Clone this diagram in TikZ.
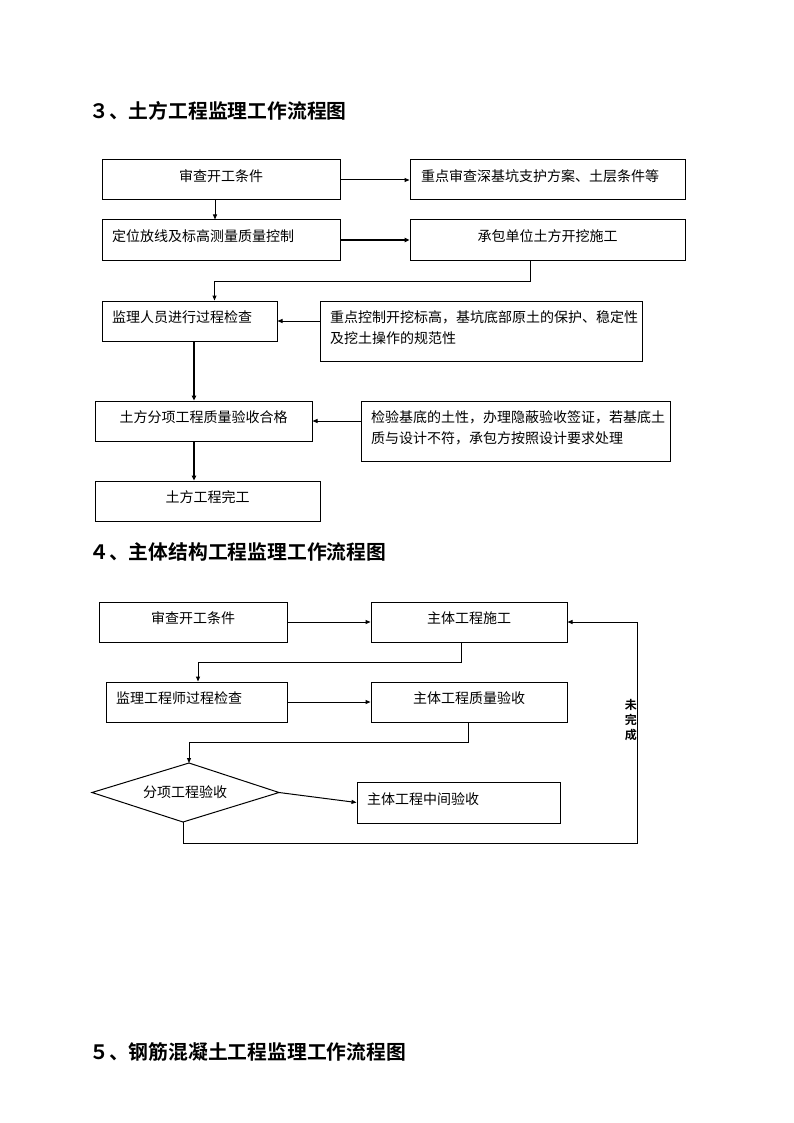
\documentclass[tikz,border=0pt]{standalone}
\usepackage{fontspec}
\setmainfont{Noto Sans CJK SC}[BoldFont={Noto Sans CJK SC Bold}]
\usetikzlibrary{arrows.meta,calc}
\tikzset{
  box/.style={draw, line width=1pt, rectangle, inner sep=0pt, text height=12pt, text depth=8.5pt,
    font=\fontsize{14pt}{21.3pt}\selectfont},
  lbox/.style={box, align=left, inner xsep=10pt},
  diatext/.style={inner sep=0pt, font=\fontsize{14pt}{21.3pt}\selectfont},
  diaedge/.style={line width=1pt, line join=miter},
  arr/.style={-{Triangle[length=5pt,width=4pt]}, line width=1pt},
  thk/.style={-{Triangle[length=5pt,width=4.5pt]}, line width=1.8pt},
  ttl/.style={anchor=west, inner sep=0pt, font=\bfseries\fontsize{19.8pt}{24pt}\selectfont},
  vlab/.style={inner sep=0pt, align=center, font=\bfseries\fontsize{12pt}{15pt}\selectfont}
}
\begin{document}
\begin{tikzpicture}[x=1pt,y=-1pt]
\useasboundingbox (0,0) rectangle (794,1123);
\fill[white] (0,0) rectangle (794,1123);

% ---------- Section 3 ----------
\node[ttl] (T3) at (89,111) {３、土方工程监理工作流程图};

\node[box, minimum width=238pt, minimum height=40pt] (A1) at (221,180) {审查开工条件};
\node[lbox, minimum width=275pt, minimum height=40pt, text width=253pt] (B1) at (547.5,180) {重点审查深基坑支护方案、土层条件等};
\node[lbox, minimum width=238pt, minimum height=40pt, text width=218pt] (A2) at (221,240) {定位放线及标高测量质量控制};
\node[box, minimum width=275pt, minimum height=40pt] (B2) at (547.5,240) {承包单位土方开挖施工};
\node[lbox, minimum width=175pt, minimum height=40pt, text width=155pt] (A3) at (189.5,321) {监理人员进行过程检查};
\node[lbox, minimum width=322pt, minimum height=60pt, text width=302pt, text depth=30pt] (C3) at (481,331)
  {重点控制开挖标高，基坑底部原土的保护、稳定性\\及挖土操作的规范性};
\node[box, minimum width=217pt, minimum height=40pt] (A4) at (203.5,421) {土方分项工程质量验收合格};
\node[lbox, minimum width=309pt, minimum height=60pt, text width=289pt, text depth=30pt] (C4) at (515.5,431)
  {检验基底的土性，办理隐蔽验收签证，若基底土\\质与设计不符，承包方按照设计要求处理};
\node[box, minimum width=225pt, minimum height=40pt] (A5) at (207.5,501) {土方工程完工};

\draw[arr] (A1.east) -- (B1.west);
\draw[arr] ([xshift=-6pt]A1.south) -- ([xshift=-6pt]A2.north);
\draw[thk] (A2.east) -- (B2.west);
\draw[arr] ([xshift=-17.5pt]B2.south) -- ++(0,21) -| ([xshift=25pt]A3.north);
\draw[arr] (C3.west |- A3.east) -- (A3.east);
\draw[thk] ([xshift=4.5pt]A3.south) -- ([xshift=4.5pt]A3.south |- A4.north);
\draw[arr] (C4.west |- A4.east) -- (A4.east);
\draw[thk] ([xshift=-9.5pt]A4.south) -- ([xshift=-9.5pt]A4.south |- A5.north);

% ---------- Section 4 ----------
\node[ttl] (T4) at (89,552) {４、主体结构工程监理工作流程图};

\node[box, minimum width=188pt, minimum height=40pt] (D1) at (193,622) {审查开工条件};
\node[box, minimum width=196pt, minimum height=40pt] (D2) at (469,622) {主体工程施工};
\node[lbox, minimum width=181pt, minimum height=40pt, text width=161pt] (D3) at (196.5,702) {监理工程师过程检查};
\node[box, minimum width=196pt, minimum height=40pt] (D4) at (469,702) {主体工程质量验收};
% decision diamond
\coordinate (DL) at (92,792.5);
\coordinate (DT) at (189,763);
\coordinate (DR) at (279,792.5);
\coordinate (DB) at (183,822);
\draw[diaedge] (DL) -- (DT) -- (DR) -- (DB) -- cycle;
\node[diatext] (DIA) at (185,792) {分项工程验收};
\node[lbox, minimum width=203pt, minimum height=41pt, text width=183pt] (D5) at (458.5,802.5) {主体工程中间验收};
\coordinate (R) at (637.5,843);
\node[vlab, anchor=east] (L) at (637,720.5) {未\\完\\成};

\draw[arr] (D1.east) -- (D2.west);
\draw[arr] ([xshift=-8pt]D2.south) -- ++(0,20) -| ([xshift=1.5pt]D3.north);
\draw[arr] (D3.east) -- (D4.west);
\draw[arr] ([xshift=-1pt]D4.south) -- ++(0,20) -| (DT);
\draw[arr] (DR) -- (D5.west);
\draw[arr] (DB) |- (R) |- (D2.east);

% ---------- Section 5 ----------
\node[ttl] (T5) at (89,1052) {５、钢筋混凝土工程监理工作流程图};
\end{tikzpicture}
\end{document}
